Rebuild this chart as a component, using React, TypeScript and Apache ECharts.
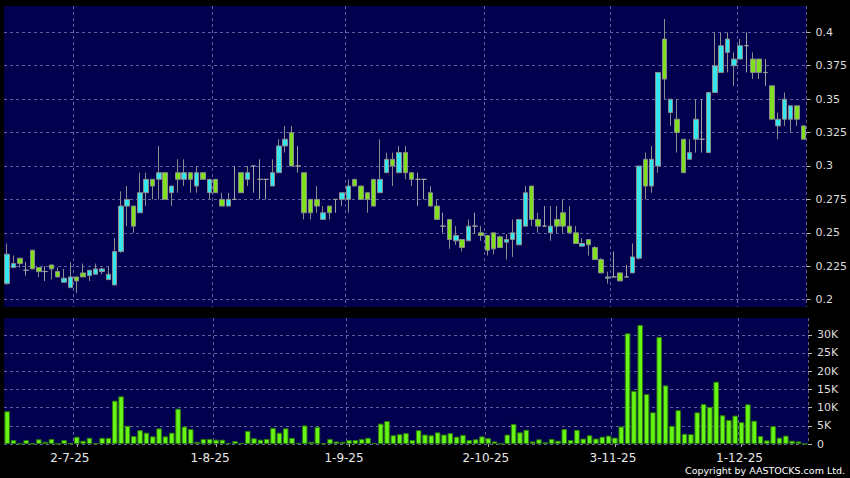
import React, { useEffect, useRef } from 'react';
import * as echarts from 'echarts';

const dates = [
  '16-6-25','17-6-25','18-6-25','19-6-25','20-6-25','23-6-25','24-6-25','25-6-25','26-6-25','27-6-25','30-6-25',
  '2-7-25','3-7-25','4-7-25','7-7-25','8-7-25','9-7-25','10-7-25','11-7-25','14-7-25','15-7-25','16-7-25','17-7-25','18-7-25','21-7-25','22-7-25','23-7-25','24-7-25','25-7-25','28-7-25','29-7-25','30-7-25','31-7-25',
  '1-8-25','4-8-25','5-8-25','6-8-25','7-8-25','8-8-25','11-8-25','12-8-25','13-8-25','14-8-25','15-8-25','18-8-25','19-8-25','20-8-25','21-8-25','22-8-25','25-8-25','26-8-25','27-8-25','28-8-25','29-8-25',
  '1-9-25','2-9-25','3-9-25','4-9-25','5-9-25','8-9-25','9-9-25','10-9-25','11-9-25','12-9-25','15-9-25','16-9-25','17-9-25','18-9-25','19-9-25','22-9-25','23-9-25','24-9-25','25-9-25','26-9-25','29-9-25','30-9-25',
  '2-10-25','3-10-25','6-10-25','8-10-25','9-10-25','10-10-25','13-10-25','14-10-25','15-10-25','16-10-25','17-10-25','20-10-25','21-10-25','22-10-25','23-10-25','24-10-25','27-10-25','28-10-25','30-10-25','31-10-25',
  '3-11-25','4-11-25','5-11-25','6-11-25','7-11-25','10-11-25','11-11-25','12-11-25','13-11-25','14-11-25','17-11-25','18-11-25','19-11-25','20-11-25','21-11-25','24-11-25','25-11-25','26-11-25','27-11-25','28-11-25',
  '1-12-25','2-12-25','3-12-25','4-12-25','5-12-25','8-12-25','9-12-25','10-12-25','11-12-25','12-12-25','15-12-25',
];

const tickLabels = ['2-7-25', '1-8-25', '1-9-25', '2-10-25', '3-11-25', '1-12-25'];

const openP = [
  0.212,0.224,0.231,0.222,0.237,0.224,0.221,0.226,0.221,0.213,
  0.209,0.217,0.220,0.218,0.219,0.221,0.215,0.211,0.236,0.270,
  0.270,0.265,0.280,0.290,0.290,0.295,0.280,0.295,0.290,0.295,
  0.285,0.295,0.280,0.290,0.275,0.270,0.275,0.295,0.290,0.300,
  0.290,0.290,0.285,0.295,0.315,0.325,0.300,0.295,0.275,0.275,
  0.260,0.270,0.275,0.275,0.275,0.290,0.285,0.280,0.290,0.280,
  0.295,0.305,0.295,0.310,0.295,0.290,0.290,0.280,0.270,0.255,
  0.260,0.244,0.245,0.244,0.255,0.250,0.248,0.250,0.247,0.243,
  0.245,0.241,0.255,0.285,0.260,0.255,0.250,0.260,0.265,0.255,
  0.250,0.240,0.245,0.239,0.230,0.216,0.217,0.220,0.217,0.220,
  0.231,0.305,0.285,0.300,0.395,0.340,0.335,0.320,0.305,0.320,
  0.320,0.310,0.355,0.370,0.385,0.375,0.380,0.390,0.380,0.380,
  0.370,0.360,0.330,0.335,0.335,0.345,0.330,
];

const closeP = [
  0.234,0.227,0.227,0.222,0.223,0.221,0.221,0.223,0.217,0.216,
  0.217,0.214,0.217,0.222,0.223,0.223,0.219,0.236,0.270,0.275,
  0.255,0.280,0.290,0.285,0.295,0.275,0.285,0.290,0.295,0.290,
  0.295,0.290,0.290,0.280,0.270,0.275,0.275,0.280,0.295,0.300,
  0.290,0.290,0.295,0.315,0.320,0.300,0.300,0.265,0.265,0.270,
  0.265,0.265,0.275,0.280,0.285,0.285,0.275,0.275,0.270,0.290,
  0.305,0.300,0.310,0.295,0.290,0.290,0.290,0.270,0.260,0.255,
  0.245,0.248,0.239,0.255,0.255,0.248,0.237,0.238,0.239,0.245,
  0.250,0.260,0.280,0.260,0.255,0.255,0.255,0.255,0.255,0.250,
  0.242,0.242,0.241,0.230,0.220,0.217,0.217,0.214,0.217,0.232,
  0.300,0.285,0.305,0.370,0.365,0.350,0.325,0.295,0.310,0.335,
  0.320,0.355,0.375,0.390,0.395,0.380,0.390,0.390,0.370,0.370,
  0.370,0.335,0.335,0.350,0.345,0.335,0.320,
];

const lowP = [
  0.211,0.224,0.224,0.218,0.223,0.217,0.214,0.215,0.217,0.213,
  0.209,0.205,0.217,0.214,0.219,0.219,0.215,0.211,0.235,0.255,
  0.250,0.265,0.270,0.275,0.275,0.275,0.270,0.280,0.285,0.280,
  0.280,0.290,0.275,0.280,0.270,0.270,0.275,0.280,0.285,0.280,
  0.275,0.275,0.285,0.295,0.310,0.300,0.295,0.260,0.260,0.265,
  0.260,0.260,0.265,0.270,0.265,0.285,0.275,0.265,0.270,0.280,
  0.295,0.285,0.295,0.290,0.285,0.270,0.275,0.270,0.260,0.250,
  0.238,0.241,0.236,0.244,0.249,0.244,0.233,0.234,0.239,0.230,
  0.232,0.241,0.255,0.255,0.250,0.255,0.244,0.250,0.250,0.250,
  0.242,0.240,0.233,0.230,0.220,0.212,0.217,0.214,0.217,0.220,
  0.230,0.275,0.280,0.295,0.350,0.330,0.310,0.295,0.305,0.310,
  0.310,0.310,0.355,0.370,0.370,0.360,0.380,0.370,0.365,0.365,
  0.360,0.335,0.320,0.330,0.325,0.330,0.320,
];

const highP = [
  0.242,0.233,0.231,0.228,0.237,0.224,0.225,0.226,0.224,0.223,
  0.228,0.217,0.227,0.222,0.227,0.224,0.225,0.246,0.281,0.285,
  0.270,0.295,0.295,0.290,0.315,0.295,0.285,0.305,0.305,0.295,
  0.300,0.295,0.290,0.290,0.280,0.280,0.300,0.295,0.300,0.300,
  0.305,0.290,0.305,0.320,0.330,0.330,0.315,0.295,0.275,0.285,
  0.270,0.270,0.275,0.280,0.290,0.290,0.285,0.280,0.290,0.320,
  0.310,0.310,0.315,0.315,0.295,0.295,0.290,0.285,0.275,0.265,
  0.260,0.255,0.245,0.260,0.265,0.255,0.248,0.250,0.248,0.249,
  0.260,0.260,0.285,0.285,0.265,0.270,0.270,0.270,0.275,0.270,
  0.255,0.246,0.245,0.240,0.231,0.221,0.236,0.220,0.226,0.242,
  0.300,0.310,0.315,0.370,0.410,0.350,0.350,0.320,0.320,0.350,
  0.350,0.355,0.400,0.400,0.400,0.385,0.395,0.400,0.385,0.380,
  0.380,0.360,0.340,0.355,0.345,0.345,0.330,
];

// volume in thousands of shares
const volumeK = [
  9.0,1.1,0.1,1.1,0.1,1.3,0.6,1.4,0.1,1.1,
  0.2,2.0,0.9,1.7,0.2,1.7,1.7,11.9,13.1,5.0,
  2.2,3.8,3.1,2.1,4.3,2.1,3.1,9.7,4.8,4.1,
  0.6,1.4,1.4,1.2,1.2,0.3,0.8,0.3,3.6,1.6,
  1.2,1.4,4.4,3.1,4.3,1.7,0.3,5.1,0.6,4.7,
  0.2,1.4,0.7,0.6,1.1,1.1,1.4,1.7,0.3,5.6,
  6.3,2.4,2.7,3.0,1.1,3.8,2.6,2.4,3.2,2.6,
  3.0,2.0,2.5,1.1,1.3,2.1,1.6,0.7,0.1,2.6,
  5.5,3.2,3.9,0.7,1.3,0.5,1.4,0.9,4.1,1.1,
  3.9,1.5,2.4,1.5,2.0,2.3,1.75,4.8,30.4,14.6,
  32.7,13.7,8.7,29.4,16.1,5.0,9.3,2.8,2.7,8.7,
  11.0,10.2,17.1,7.9,6.6,7.8,6.0,10.9,6.4,2.2,
  1.0,4.9,1.75,2.3,0.9,0.7,0.05,
];

const priceTicks = [0.2, 0.225, 0.25, 0.275, 0.3, 0.325, 0.35, 0.375, 0.4];
const volumeTicks = [0, 5, 10, 15, 20, 25, 30];

export default function App() {
  const ref = useRef<HTMLDivElement>(null);

  useEffect(() => {
    if (!ref.current) return;
    const chart = echarts.init(ref.current, null, { renderer: 'svg' });
    const isTick = (i: number) => tickLabels.includes(dates[i]);
    const gridLine = { show: true, interval: (i: number) => isTick(i), lineStyle: { color: '#62629a', type: [3, 3], width: 1 } };
    const candles = dates.map((_, i) => [openP[i], closeP[i], lowP[i], highP[i]]);
    const font = 'DejaVu Sans';
    // the source places its date labels a few pixels left of the band centre
    const labelShift = [14, 12, 10, 5, 4, 4];
    const rich: Record<string, object> = {};
    labelShift.forEach((p, k) => {
      rich['s' + k] = { color: '#e8e8e8', fontSize: 12, fontFamily: font, padding: [0, p, 0, 0] };
    });

    chart.setOption({
      animation: false,
      backgroundColor: '#000000',
      grid: [
        { left: 4, right: 42, top: 6, height: 301, show: true, backgroundColor: '#00004e', borderWidth: 0 },
        { left: 4, right: 42, top: 318, height: 126, show: true, backgroundColor: '#00004e', borderWidth: 0 },
      ],
      xAxis: [
        {
          type: 'category', data: dates, gridIndex: 0, boundaryGap: true,
          axisLine: { show: false }, axisTick: { show: false }, axisLabel: { show: false },
          splitLine: gridLine,
        },
        {
          type: 'category', data: dates, gridIndex: 1, boundaryGap: true,
          axisLine: { show: false },
          axisTick: { show: true, alignWithLabel: true, interval: (i: number) => isTick(i), length: 3, lineStyle: { color: '#aaaaaa' } },
          axisLabel: {
            interval: (i: number) => isTick(i), color: '#e8e8e8', fontSize: 12, fontFamily: font, margin: 8,
            formatter: (v: string) => {
              const k = tickLabels.indexOf(v);
              return k >= 0 ? '{s' + k + '|' + v + '}' : v;
            },
            rich,
          },
          splitLine: gridLine,
        },
      ],
      yAxis: [
        {
          type: 'value', gridIndex: 0, position: 'right', min: 0.1945, max: 0.4197, scale: true,
          axisLine: { show: false },
          axisTick: { show: true, length: 4, customValues: priceTicks, lineStyle: { color: '#bbbbbb' } },
          axisLabel: {
            customValues: priceTicks, color: '#dddddd', fontSize: 11, fontFamily: font, margin: 9,
            formatter: (v: number) => String(parseFloat(v.toFixed(3))),
          },
          splitLine: { show: true, lineStyle: { color: '#62629a', type: [3, 3], width: 1 } },
        },
        {
          type: 'value', gridIndex: 1, position: 'right', min: 0, max: 34.6,
          axisLine: { show: false },
          axisTick: { show: true, length: 4, customValues: volumeTicks, lineStyle: { color: '#bbbbbb' } },
          axisLabel: {
            customValues: volumeTicks, color: '#dddddd', fontSize: 11, fontFamily: font, margin: 9,
            formatter: (v: number) => (v === 0 ? '0' : v + 'K'),
          },
          splitLine: { show: true, lineStyle: { color: '#62629a', type: [3, 3], width: 1 } },
        },
      ],
      series: [
        {
          type: 'candlestick', xAxisIndex: 0, yAxisIndex: 0, data: candles, barWidth: 5,
          itemStyle: {
            color: '#35e6ef', color0: '#80e01e',
            borderColor: '#8c8c8c', borderColor0: '#8c8c8c', borderColorDoji: '#a0a0a0', borderWidth: 1,
          },
        },
        {
          type: 'bar', xAxisIndex: 1, yAxisIndex: 1, data: volumeK, barWidth: '88%',
          itemStyle: { color: '#66f516', borderColor: '#2d7d0a', borderWidth: 1 },
        },
      ],
      graphic: [
        {
          type: 'text', right: 5, top: 465,
          style: { text: 'Copyright by AASTOCKS.com Ltd.', fill: '#ffffff', font: '9.5px "DejaVu Sans"' },
        },
      ],
    });

    return () => chart.dispose();
  }, []);

  return (
    <div
      ref={ref}
      style={{ position: 'fixed', left: 0, top: 0, width: 850, height: 478, background: '#000' }}
    />
  );
}
